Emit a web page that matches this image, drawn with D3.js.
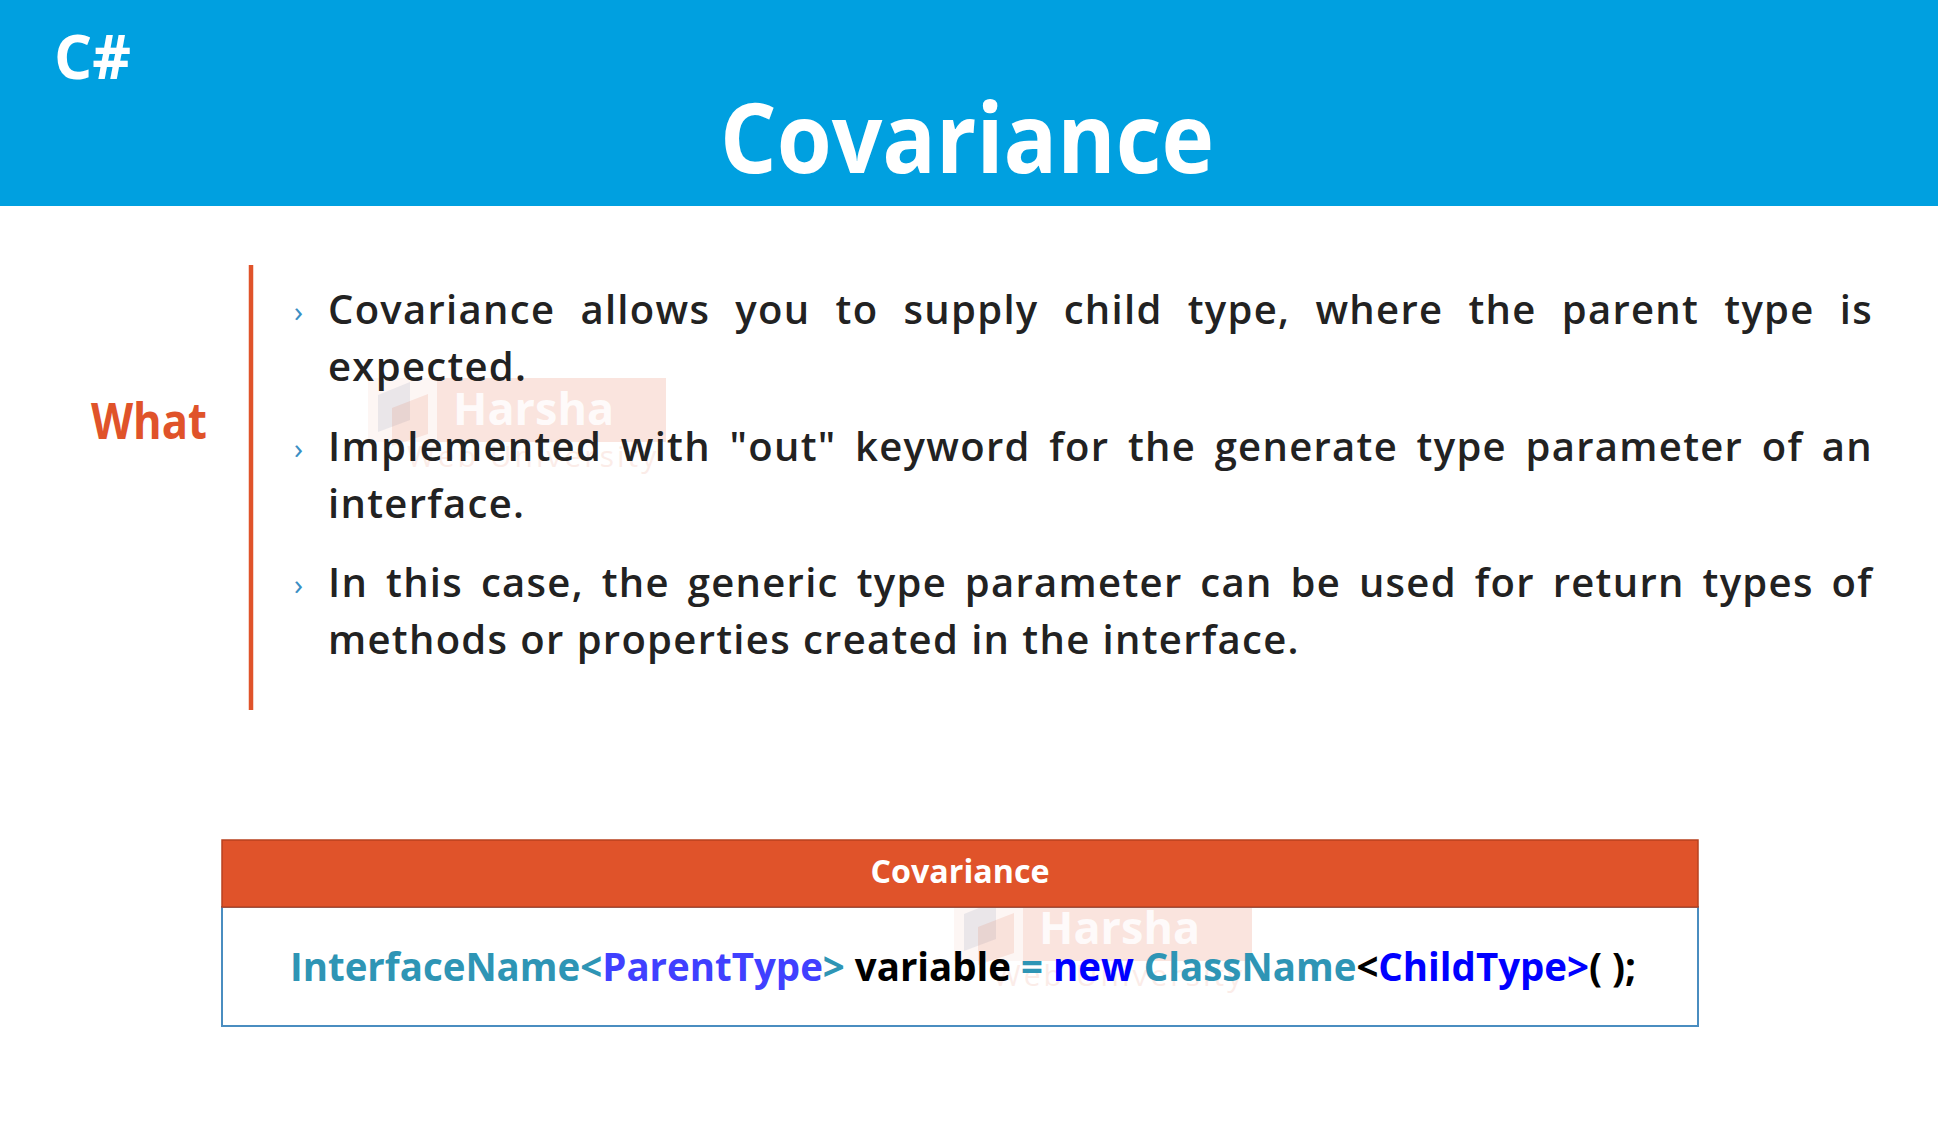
<!DOCTYPE html>
<html><head><meta charset="utf-8">
<script src="https://cdn.jsdelivr.net/npm/d3@7"></script>
<style>
html,body{margin:0;padding:0;background:#fff;}
svg{display:block;}
</style></head>
<body>
<script>
// ---- data ----
const cornerLabel = "C#";
const titleText = "Covariance";
const sideLabel = "What";
const bulletParagraphs = [
  ["Covariance allows you to supply child type, where the parent type is", "expected."],
  ["Implemented with \"out\" keyword for the generate type parameter of an", "interface."],
  ["In this case, the generic type parameter can be used for return types of", "methods or properties created in the interface."]
];
const tableTitle = "Covariance";
const codeTokens = [
  {text: "InterfaceName", kind: "type"},
  {text: "<", kind: "type"},
  {text: "ParentType", kind: "param"},
  {text: ">", kind: "type"},
  {text: " variable ", kind: "plain"},
  {text: "=", kind: "type"},
  {text: " new ", kind: "keyword"},
  {text: "ClassName", kind: "type"},
  {text: "<", kind: "plain"},
  {text: "ChildType>", kind: "keyword"},
  {text: "( );", kind: "plain"}
];
const watermarkTitle = "Harsha";
const watermarkSub = "Web University";

// ---- styles ----
const W = 1938, H = 1147;
const blue = "#00A0E0", orange = "#E0532A";
const codeColors = {type: "#2E95B5", param: "#4040FF", keyword: "#0000FF", plain: "#000000"};
const font = "'Open Sans', 'Noto Sans', sans-serif";

const svg = d3.select("body").append("svg").attr("width", W).attr("height", H);

// header band
svg.append("rect").attr("x", 0).attr("y", 0).attr("width", W).attr("height", 206).attr("fill", blue);
svg.append("text").attr("x", 54).attr("y", 79).text(cornerLabel)
  .attr("font-family", font).attr("font-weight", 700).attr("font-size", 60).attr("fill", "#fff");
svg.append("text").attr("x", W / 2 - 2).attr("y", 173).attr("text-anchor", "middle").text(titleText)
  .attr("font-family", font).attr("font-weight", 700).attr("font-size", 96).attr("fill", "#fff")
  .attr("textLength", 494).attr("lengthAdjust", "spacingAndGlyphs");

// watermark
function watermark(dx, dy) {
  const g = svg.append("g").attr("transform", `translate(${dx},${dy})`);
  g.append("rect").attr("x", 368).attr("y", 378).attr("width", 298).attr("height", 64)
    .attr("fill", orange).attr("opacity", 0.05);
  g.append("rect").attr("x", 437).attr("y", 378).attr("width", 229).attr("height", 64)
    .attr("fill", orange).attr("opacity", 0.11);
  g.append("path").attr("d", "M378,395 L410,382 L410,420 L378,432 Z").attr("fill", "#8090b0").attr("opacity", 0.15);
  g.append("path").attr("d", "M392,408 L428,394 L428,434 L392,446 Z").attr("fill", orange).attr("opacity", 0.12);
  g.append("text").attr("x", 453).attr("y", 425).text(watermarkTitle)
    .attr("font-family", font).attr("font-weight", 700).attr("font-size", 45).attr("fill", "#fff").attr("opacity", 0.85);
  g.append("text").attr("x", 407).attr("y", 467).text(watermarkSub)
    .attr("font-family", font).attr("font-size", 30).attr("letter-spacing", 3).attr("fill", orange).attr("opacity", 0.1);
}
watermark(0, 0);
watermark(586, 519);

// side label and divider
svg.append("text").attr("x", 149).attr("y", 439).attr("text-anchor", "middle").text(sideLabel)
  .attr("font-family", font).attr("font-weight", 700).attr("font-size", 51).attr("fill", orange)
  .attr("textLength", 116).attr("lengthAdjust", "spacingAndGlyphs");
svg.append("line").attr("x1", 251).attr("x2", 251).attr("y1", 265).attr("y2", 710)
  .attr("stroke", orange).attr("stroke-width", 4.5);

// bullets
const textLeft = 328, textRight = 1873, lineGap = 57, paraStart = [324, 461, 597];
const bodySize = 40;
bulletParagraphs.forEach((lines, pi) => {
  const y0 = paraStart[pi];
  svg.append("text").attr("x", 294).attr("y", y0 - 2).text("›")
    .attr("font-family", font).attr("font-size", 30).attr("fill", "#3A8FC4");
  lines.forEach((line, li) => {
    const y = y0 + li * lineGap;
    const words = line.split(" ");
    const justify = li < lines.length - 1;
    const g = svg.append("g");
    const nodes = words.map(w => g.append("text").attr("y", y).text(w)
      .attr("font-family", font).attr("font-weight", 600).attr("font-size", bodySize)
      .attr("letter-spacing", 1.3).attr("fill", "#222"));
    const widths = nodes.map(n => n.node().getComputedTextLength());
    const sum = d3.sum(widths);
    const space = justify ? (textRight - textLeft - sum) / (words.length - 1) : bodySize * 0.3;
    let x = textLeft;
    nodes.forEach((n, i) => { n.attr("x", x); x += widths[i] + space; });
  });
});

// table
const tx = 222, tw = 1476, ty = 840, th = 67, tb = 1026;
svg.append("rect").attr("x", tx).attr("y", ty + th).attr("width", tw).attr("height", tb - ty - th)
  .attr("fill", "none").attr("stroke", "#4A8DC0").attr("stroke-width", 2);
svg.append("rect").attr("x", tx).attr("y", ty).attr("width", tw).attr("height", th)
  .attr("fill", orange).attr("stroke", "#B8421F").attr("stroke-width", 1.5);
svg.append("text").attr("x", tx + tw / 2).attr("y", 883).attr("text-anchor", "middle").text(tableTitle)
  .attr("font-family", font).attr("font-weight", 700).attr("font-size", 33).attr("fill", "#fff")
  .attr("textLength", 179).attr("lengthAdjust", "spacingAndGlyphs");

const code = svg.append("text").attr("x", tx + tw / 2 + 3).attr("y", 981).attr("text-anchor", "middle")
  .attr("font-family", font).attr("font-weight", 700).attr("font-size", 40)
  .attr("textLength", 1346).attr("lengthAdjust", "spacingAndGlyphs")
  .attr("xml:space", "preserve").style("white-space", "pre");
code.selectAll("tspan").data(codeTokens).join("tspan")
  .text(d => d.text).attr("fill", d => codeColors[d.kind]);
</script>
</body></html>
